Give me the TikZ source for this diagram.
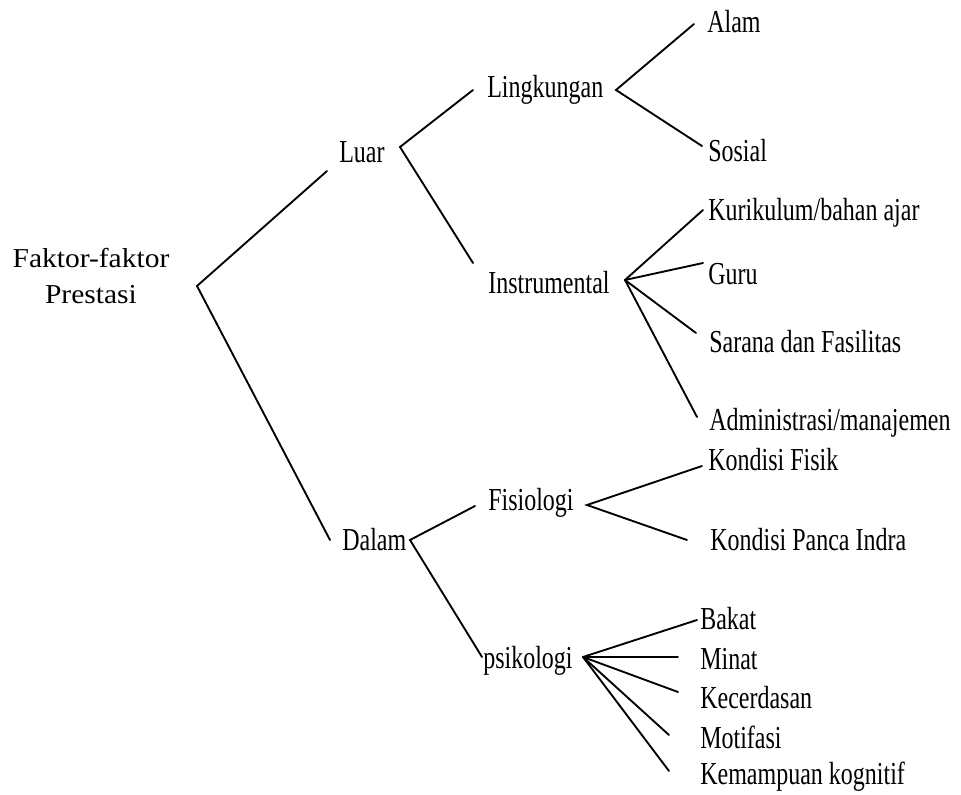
\documentclass[tikz,border=0pt]{standalone}
\usepackage{fontspec}
\setmainfont{Liberation Serif}
\newfontfamily\narrowserif[FakeStretch=0.75]{Liberation Serif}
\newfontfamily\wideserif[FakeStretch=1.08]{Liberation Serif}
\tikzstyle{factor}=[anchor=base west,inner sep=0pt,font=\narrowserif\fontsize{24}{28}\selectfont]
\tikzstyle{rootfactor}=[align=center,inner sep=0pt,font=\wideserif\fontsize{20.5}{27}\selectfont]
\tikzstyle{branch}=[line width=1.4pt,line cap=round,line join=miter]

\begin{document}
\begin{tikzpicture}[x=0.75pt,y=-0.75pt]
    \useasboundingbox (0,0) rectangle (961,795);
    % the factors
    \node[rootfactor] (prestasi) at (91,276) {Faktor-faktor\\Prestasi};
    \node[factor] (luar) at (339,163) {Luar};
    \node[factor] (dalam) at (342,550) {Dalam};
    \node[factor] (lingkungan) at (487,98) {Lingkungan};
    \node[factor] (instrumental) at (488,293) {Instrumental};
    \node[factor] (fisiologi) at (488,510) {Fisiologi};
    \node[factor] (psikologi) at (483,668) {psikologi};
    \node[factor] (alam) at (707,33) {Alam};
    \node[factor] (sosial) at (708,162) {Sosial};
    \node[factor] (kurikulum) at (708,221) {Kurikulum/bahan ajar};
    \node[factor] (guru) at (708,285) {Guru};
    \node[factor] (sarana) at (709,352) {Sarana dan Fasilitas};
    \node[factor] (administrasi) at (709,430) {Administrasi/manajemen};
    \node[factor] (fisik) at (708,470) {Kondisi Fisik};
    \node[factor] (indra) at (710,550) {Kondisi Panca Indra};
    \node[factor] (bakat) at (700,629) {Bakat};
    \node[factor] (minat) at (700,669) {Minat};
    \node[factor] (kecerdasan) at (700,708) {Kecerdasan};
    \node[factor] (motifasi) at (700,748) {Motifasi};
    \node[factor] (kognitif) at (700,784) {Kemampuan kognitif};
    % where the branches split
    \coordinate (prestasi-r) at (197,286);
    \coordinate (luar-r) at (400,147);
    \coordinate (dalam-r) at (410,540);
    \coordinate (lingkungan-r) at (616,90);
    \coordinate (instrumental-r) at (625,280);
    \coordinate (fisiologi-r) at (587,505);
    \coordinate (psikologi-r) at (583,657);
    % where the branches end
    \coordinate (luar-l) at (327,171);
    \coordinate (dalam-l) at (330,540);
    \coordinate (lingkungan-l) at (473,90);
    \coordinate (instrumental-l) at (473,263);
    \coordinate (fisiologi-l) at (475,506);
    \coordinate (psikologi-l) at (482,657);
    \coordinate (alam-l) at (694,24);
    \coordinate (sosial-l) at (702,146);
    \coordinate (kurikulum-l) at (703,210);
    \coordinate (guru-l) at (703,263);
    \coordinate (sarana-l) at (696,333);
    \coordinate (administrasi-l) at (697,417);
    \coordinate (fisik-l) at (702,466);
    \coordinate (indra-l) at (687,540);
    \coordinate (bakat-l) at (697,620);
    \coordinate (minat-l) at (678,657);
    \coordinate (kecerdasan-l) at (678,692);
    \coordinate (motifasi-l) at (669,735);
    \coordinate (kognitif-l) at (669,771);
    % the branches
    \draw[branch] (luar-l) -- (prestasi-r) -- (dalam-l);
    \draw[branch] (lingkungan-l) -- (luar-r) -- (instrumental-l);
    \draw[branch] (fisiologi-l) -- (dalam-r) -- (psikologi-l);
    \draw[branch] (alam-l) -- (lingkungan-r) -- (sosial-l);
    \draw[branch] (fisik-l) -- (fisiologi-r) -- (indra-l);
    \foreach \leaf in {kurikulum,guru,sarana,administrasi}
        \draw[branch] (instrumental-r) -- (\leaf-l);
    \foreach \leaf in {bakat,minat,kecerdasan,motifasi,kognitif}
        \draw[branch] (psikologi-r) -- (\leaf-l);
\end{tikzpicture}
\end{document}
